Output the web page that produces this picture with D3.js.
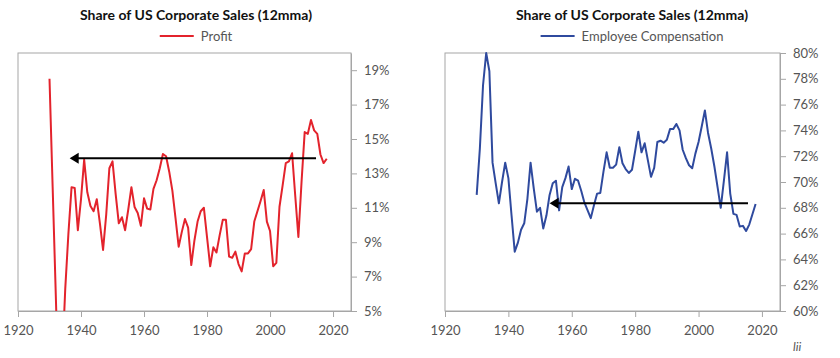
<!DOCTYPE html>
<html>
<head>
<meta charset="utf-8">
<script src="https://cdn.jsdelivr.net/npm/d3@7"></script>
<style>
  body { margin: 0; background: #fff; }
  text { font-family: Lato, "Open Sans", sans-serif; }
  .tick text { fill: #555; font-size: 13px; }
</style>
</head>
<body>
<div id="chart"></div>
<script>
// annual points, 1930-2018
const years = d3.range(1930, 2019);

// share of sales, %
const profitShare = [
  18.5, 12.2, 5.9, -0.5, 2.0, 6.3, 9.5, 12.2, 12.15, 9.7,
  11.5, 13.8, 11.9, 11.1, 10.8, 11.5, 10.1, 8.55, 10.6, 13.3,
  13.7, 11.8, 10.1, 10.45, 9.7, 10.9, 12.2, 11.05, 10.7, 9.95,
  11.55, 10.95, 10.9, 12.1, 12.6, 13.3, 14.13, 14.0, 13.1, 12.0,
  10.4, 8.74, 9.6, 10.35, 9.85, 7.67, 9.1, 10.2, 10.8, 11.0,
  9.3, 7.6, 8.7, 8.4, 9.4, 10.3, 10.3, 8.16, 8.1, 8.45,
  7.73, 7.3, 8.35, 8.35, 8.6, 10.2, 10.8, 11.4, 12.03, 10.2,
  9.65, 7.6, 7.8, 11.06, 12.3, 13.6, 13.7, 14.17, 11.7, 9.3,
  12.5, 15.4, 15.3, 16.1, 15.5, 15.3, 14.1, 13.6, 13.85
];

const compShare = [
  69.0, 72.6, 77.5, 80.0, 78.6, 71.5, 69.9, 68.35, 70.0, 71.5,
  70.3, 67.4, 64.6, 65.3, 66.3, 66.8, 68.7, 71.5, 69.5, 67.7,
  68.0, 66.4, 67.4, 69.0, 69.9, 70.1, 67.8, 69.6, 70.3, 71.2,
  69.45, 70.25, 70.1, 69.3, 68.4, 67.8, 67.2, 68.2, 69.1, 69.15,
  70.8, 72.3, 71.1, 71.1, 71.35, 72.7, 71.45, 71.0, 70.7, 70.95,
  72.4, 73.9, 72.3, 73.0, 71.7, 70.4, 71.1, 73.1, 73.2, 73.05,
  73.27, 74.1, 74.1, 74.5, 74.0, 72.5, 71.85, 71.3, 71.07, 72.2,
  73.1, 74.3, 75.55, 73.8, 72.6, 71.2, 69.6, 68.0, 70.1, 72.3,
  69.1, 67.53, 67.45, 66.55, 66.6, 66.2, 66.7, 67.5, 68.3
];

const xTicks = [1920, 1940, 1960, 1980, 2000, 2020];
const profitTicks = [5, 7, 9, 11, 13, 15, 17, 19];
const compTicks = [60, 62, 64, 66, 68, 70, 72, 74, 76, 78, 80];

// arrow annotation: [from year, to year, level]
const profitArrow = [2014.6, 1936.4, 13.88];
const compArrow = [2015.6, 1953.0, 68.36];

const chartTitle = "Share of US Corporate Sales (12mma)";

const width = 840;
const height = 358;

const svg = d3
  .select("#chart")
  .append("svg")
  .attr("width", width)
  .attr("height", height);

function drawPanel(cfg) {
  const x = d3.scaleLinear().domain([1920, 2025.7]).range([cfg.left, cfg.right]);
  const y = d3.scaleLinear().domain(cfg.yDomain).range([cfg.bottom, cfg.top]);
  const g = svg.append("g");

  // frame
  g.append("rect")
    .attr("x", cfg.left)
    .attr("y", cfg.top)
    .attr("width", cfg.right - cfg.left)
    .attr("height", cfg.bottom - cfg.top)
    .attr("fill", "none")
    .attr("stroke", "#a6a6a6")
    .attr("stroke-width", 1);

  const xAxis = g
    .append("g")
    .attr("transform", `translate(0,${cfg.bottom})`)
    .call(d3.axisBottom(x).tickValues(xTicks).tickFormat(d3.format("d")).tickSize(6).tickSizeOuter(0).tickPadding(9));
  const yAxis = g
    .append("g")
    .attr("transform", `translate(${cfg.right},0)`)
    .call(d3.axisRight(y).tickValues(cfg.ticks).tickFormat((d) => d + "%").tickSize(6).tickSizeOuter(0).tickPadding(7));
  [xAxis, yAxis].forEach((a) => {
    a.select(".domain").attr("stroke", "#a6a6a6");
    a.selectAll(".tick line").attr("stroke", "#a6a6a6");
    a.selectAll(".tick text").attr("fill", "#555").style("font-size", "13px");
  });

  const clipId = "clip-" + cfg.id;
  svg.append("clipPath")
    .attr("id", clipId)
    .append("rect")
    .attr("x", cfg.left)
    .attr("y", cfg.top - 2)
    .attr("width", cfg.right - cfg.left)
    .attr("height", cfg.bottom - cfg.top + 2);

  const line = d3.line()
    .x((d, i) => x(years[i]))
    .y((d) => y(d));

  g.append("path")
    .datum(cfg.values)
    .attr("clip-path", `url(#${clipId})`)
    .attr("fill", "none")
    .attr("stroke", cfg.color)
    .attr("stroke-width", 2)
    .attr("stroke-linejoin", "round")
    .attr("d", line);

  // arrow
  const [fromYear, toYear, level] = cfg.arrow;
  const ay = y(level);
  const tip = x(toYear);
  g.append("line")
    .attr("x1", x(fromYear))
    .attr("x2", tip + 6)
    .attr("y1", ay)
    .attr("y2", ay)
    .attr("stroke", "#000")
    .attr("stroke-width", 2);
  g.append("path")
    .attr("d", `M${tip},${ay}L${tip + 9},${ay - 5.5}L${tip + 9},${ay + 5.5}Z`)
    .attr("fill", "#000");

  // title + legend
  g.append("text")
    .attr("x", cfg.center)
    .attr("y", 20)
    .attr("text-anchor", "middle")
    .style("font-weight", "bold")
    .style("font-size", "14px")
    .attr("fill", "#111")
    .text(chartTitle);

  const legend = g.append("g");
  legend.append("line")
    .attr("x1", 0)
    .attr("x2", 34)
    .attr("y1", 0)
    .attr("y2", 0)
    .attr("stroke", cfg.color)
    .attr("stroke-width", 2);
  const label = legend.append("text")
    .attr("x", 41)
    .attr("y", 4.5)
    .style("font-size", "13px")
    .attr("fill", "#555")
    .text(cfg.label);
  const legendWidth = 41 + label.node().getComputedTextLength();
  legend.attr("transform", `translate(${cfg.center - legendWidth / 2},36)`);
}

drawPanel({
  id: "profit",
  left: 18,
  right: 351,
  top: 53,
  bottom: 311,
  center: 196,
  yDomain: [5, 20],
  ticks: profitTicks,
  values: profitShare,
  color: "#e3232c",
  label: "Profit",
  arrow: profitArrow
});

drawPanel({
  id: "comp",
  left: 445,
  right: 780,
  top: 53,
  bottom: 311,
  center: 632,
  yDomain: [60, 80],
  ticks: compTicks,
  values: compShare,
  color: "#2f4a9e",
  label: "Employee Compensation",
  arrow: compArrow
});

svg.append("text")
  .attr("x", 793)
  .attr("y", 351)
  .style("font-style", "italic")
  .style("font-size", "12px")
  .attr("fill", "#555")
  .text("lii");
</script>
</body>
</html>
